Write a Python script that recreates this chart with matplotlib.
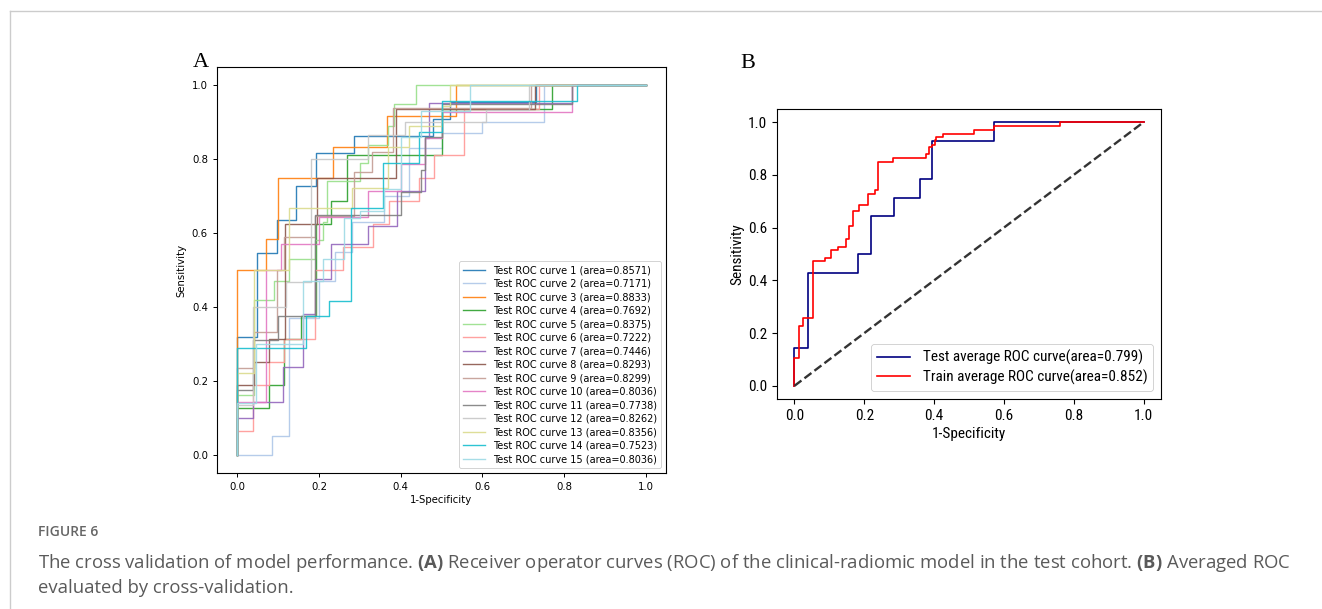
import matplotlib
matplotlib.use("Agg")
import matplotlib.pyplot as plt
from matplotlib import font_manager as fm
from matplotlib.lines import Line2D

# ---------------- data: panel A (15 test ROC curves, step corners) ----------------
fpr_01 = [0, 0, 0.049, 0.098, 0.143, 0.192, 0.286, 0.478, 0.522, 0.731, 1]
tpr_01 = [0, 0.318, 0.545, 0.636, 0.727, 0.818, 0.864, 0.909, 0.955, 1, 1]
fpr_02 = [0, 0.084, 0.127, 0.2, 0.24, 0.28, 0.36, 0.42, 0.5, 0.6, 0.751, 1]
tpr_02 = [0, 0.05, 0.37, 0.47, 0.55, 0.63, 0.70, 0.83, 0.87, 0.9, 1, 1]
fpr_03 = [0, 0, 0.069, 0.1, 0.233, 0.367, 0.535, 1]
tpr_03 = [0, 0.5, 0.583, 0.75, 0.833, 0.917, 1, 1]
fpr_04 = [0, 0, 0.077, 0.115, 0.155, 0.193, 0.23, 0.269, 0.5, 0.77, 1]
tpr_04 = [0, 0.125, 0.1875, 0.3125, 0.375, 0.625, 0.6875, 0.8125, 0.9375, 1, 1]
fpr_05 = [0, 0, 0.04, 0.09, 0.126, 0.19, 0.21, 0.22, 0.30, 0.32, 0.37, 0.384, 0.437, 1]
tpr_05 = [0, 0.16, 0.42, 0.47, 0.53, 0.58, 0.63, 0.74, 0.79, 0.84, 0.89, 0.95, 1, 1]
fpr_06 = [0, 0, 0.037, 0.077, 0.115, 0.19, 0.259, 0.333, 0.371, 0.446, 0.482, 0.555, 0.74, 1]
tpr_06 = [0, 0.0625, 0.1875, 0.25, 0.3125, 0.5, 0.5625, 0.625, 0.6875, 0.75, 0.8125, 0.9375, 1, 1]
fpr_07 = [0, 0, 0.037, 0.111, 0.16, 0.19, 0.23, 0.32, 0.39, 0.46, 0.47, 0.82, 1]
tpr_07 = [0, 0.1, 0.143, 0.238, 0.381, 0.476, 0.571, 0.619, 0.714, 0.857, 0.952, 1, 1]
fpr_08 = [0, 0, 0.04, 0.078, 0.116, 0.194, 0.388, 0.73, 1]
tpr_08 = [0, 0.1875, 0.25, 0.3125, 0.625, 0.75, 0.9375, 1, 1]
fpr_09 = [0, 0, 0.04, 0.098, 0.115, 0.19, 0.286, 0.33, 0.38, 0.72, 1]
tpr_09 = [0, 0.235, 0.333, 0.5, 0.59, 0.647, 0.765, 0.82, 0.94, 1, 1]
fpr_10 = [0, 0, 0.071, 0.107, 0.2, 0.32, 0.4, 0.46, 0.5, 0.82, 1]
tpr_10 = [0, 0.143, 0.5, 0.571, 0.643, 0.714, 0.786, 0.857, 0.929, 1, 1]
fpr_11 = [0, 0, 0.037, 0.1, 0.19, 0.4, 0.45, 0.46, 0.5, 0.82, 1]
tpr_11 = [0, 0.175, 0.31, 0.375, 0.65, 0.71, 0.77, 0.86, 0.95, 1, 1]
fpr_12 = [0, 0, 0.037, 0.12, 0.18, 0.32, 0.41, 0.61, 0.714, 1]
tpr_12 = [0, 0.133, 0.4, 0.467, 0.8, 0.867, 0.9, 0.933, 1, 1]
fpr_13 = [0, 0, 0.04, 0.127, 0.28, 0.37, 0.42, 0.5, 0.52, 1]
tpr_13 = [0, 0.222, 0.5, 0.667, 0.722, 0.833, 0.889, 0.944, 1, 1]
fpr_14 = [0, 0, 0.167, 0.224, 0.278, 0.357, 0.445, 0.5, 0.833, 1]
tpr_14 = [0, 0.29, 0.375, 0.417, 0.667, 0.79, 0.875, 0.958, 1, 1]
fpr_15 = [0, 0, 0.045, 0.16, 0.21, 0.26, 0.3, 0.36, 0.4, 0.45, 0.571, 1]
tpr_15 = [0, 0.14, 0.3, 0.47, 0.53, 0.64, 0.66, 0.72, 0.86, 0.93, 1, 1]

areas_a = ["0.8571", "0.7171", "0.8833", "0.7692", "0.8375", "0.7222", "0.7446",
           "0.8293", "0.8299", "0.8036", "0.7738", "0.8262", "0.8356", "0.7523", "0.8036"]
colors_a = ["#1f77b4", "#aec7e8", "#ff7f0e", "#2ca02c", "#98df8a", "#ff9896", "#9467bd",
            "#8c564b", "#c49c94", "#e377c2", "#7f7f7f", "#c7c7c7", "#dbdb8d", "#17becf", "#9edae5"]

# ---------------- data: panel B (averaged ROC curves) ----------------
test_fpr = [0, 0, 0.038, 0.181, 0.218, 0.286, 0.359, 0.394, 0.573, 1.0]
test_tpr = [0, 0.143, 0.429, 0.5, 0.643, 0.714, 0.786, 0.929, 1.0, 1.0]
train_fpr = [0, 0, 0.014, 0.024, 0.053, 0.087, 0.106, 0.126, 0.148, 0.157, 0.168, 0.186,
             0.21, 0.231, 0.240, 0.282, 0.377, 0.386, 0.395, 0.402, 0.406, 0.426, 0.513,
             0.573, 0.761, 1.0]
train_tpr = [0, 0.107, 0.227, 0.258, 0.475, 0.485, 0.515, 0.525, 0.556, 0.606, 0.662, 0.687,
             0.727, 0.742, 0.848, 0.864, 0.879, 0.904, 0.914, 0.934, 0.944, 0.955, 0.97,
             0.985, 1.0, 1.0]
test_area = "0.799"
train_area = "0.852"

ticks = [0.0, 0.2, 0.4, 0.6, 0.8, 1.0]

# ---------------- fonts ----------------
names = {f.name for f in fm.fontManager.ttflist}
b_font = {"family": "DejaVu Sans"}
b_size = 8.5
for cand in ["Liberation Sans Narrow", "Roboto Condensed", "Open Sans Condensed",
             "DejaVu Sans Condensed"]:
    if cand in names:
        b_font = {"family": cand}
        b_size = 11
        break
else:
    try:
        p = fm.findfont(fm.FontProperties(family="DejaVu Sans", stretch="condensed"),
                        fallback_to_default=False)
        if "Condensed" in p:
            b_font = {"family": "DejaVu Sans", "stretch": "condensed"}
            b_size = 10
    except Exception:
        pass
cap_font = "Open Sans" if "Open Sans" in names else "DejaVu Sans"

plt.rcParams["font.family"] = ["DejaVu Sans"]

W, H = 1322, 609
fig = plt.figure(figsize=(W / 100, H / 100), dpi=100)
fig.patch.set_facecolor("white")

# thin page frame lines (top and left)
fig.add_artist(Line2D([10 / W, 1.0], [1 - 11 / H, 1 - 11 / H], transform=fig.transFigure,
                      color="#cccccc", lw=1.0))
fig.add_artist(Line2D([10 / W, 10 / W], [0.0, 1 - 11 / H], transform=fig.transFigure,
                      color="#cccccc", lw=1.0))

# ---------------- panel A ----------------
axA = fig.add_axes([217 / W, 1 - 473 / H, 449 / W, 406 / H])
curves = [(fpr_01, tpr_01), (fpr_02, tpr_02), (fpr_03, tpr_03), (fpr_04, tpr_04),
          (fpr_05, tpr_05), (fpr_06, tpr_06), (fpr_07, tpr_07), (fpr_08, tpr_08),
          (fpr_09, tpr_09), (fpr_10, tpr_10), (fpr_11, tpr_11), (fpr_12, tpr_12),
          (fpr_13, tpr_13), (fpr_14, tpr_14), (fpr_15, tpr_15)]
for i, (fx, ty) in enumerate(curves):
    axA.plot(fx, ty, drawstyle="steps-post", color=colors_a[i], lw=1.0, alpha=0.9,
             label=f"Test ROC curve {i + 1} (area={areas_a[i]})")
axA.set_xticks(ticks)
axA.set_yticks(ticks)
axA.tick_params(labelsize=7.3, length=3, width=0.7)
axA.set_xlabel("1-Specificity", fontsize=7.3, labelpad=2)
axA.set_ylabel("Sensitivity", fontsize=7.3, labelpad=4)
for s in axA.spines.values():
    s.set_linewidth(0.8)
legA = axA.legend(loc="lower right", fontsize=7.0, labelspacing=0.36, handlelength=2.3,
                  borderaxespad=0.5, framealpha=1.0, fancybox=True)
legA.get_frame().set_linewidth(0.6)

# ---------------- panel B ----------------
axB = fig.add_axes([777 / W, 1 - 399 / H, 384 / W, 290 / H])
axB.plot(test_fpr, test_tpr, drawstyle="steps-post", color="navy", lw=1.2,
         label=f"Test average ROC curve(area={test_area})")
axB.plot(train_fpr, train_tpr, drawstyle="steps-post", color="red", lw=1.2,
         label=f"Train average ROC curve(area={train_area})")
axB.plot([0, 1], [0, 1], linestyle="--", color="#333333", lw=1.7)
axB.set_xticks(ticks)
axB.set_yticks(ticks)
axB.set_xticklabels([f"{t:.1f}" for t in ticks], fontsize=b_size, **b_font)
axB.set_yticklabels([f"{t:.1f}" for t in ticks], fontsize=b_size, **b_font)
axB.tick_params(length=3.5, width=0.8)
axB.set_xlabel("1-Specificity", fontsize=b_size, labelpad=3, **b_font)
axB.set_ylabel("Sensitivity", fontsize=b_size, labelpad=3, **b_font)
legB = axB.legend(loc="lower right", prop=dict(size=b_size, **b_font),
                  handlelength=2.2, labelspacing=0.3, framealpha=1.0)
legB.get_frame().set_linewidth(0.6)

# ---------------- panel letters ----------------
fig.text(193 / W, 1 - 67 / H, "A", family="Liberation Serif", fontsize=16, va="baseline")
fig.text(740 / W, 1 - 68 / H, "B", family="Liberation Serif", fontsize=16, va="baseline")

# ---------------- caption ----------------
plt.rcParams["mathtext.fontset"] = "custom"
plt.rcParams["mathtext.bf"] = f"{cap_font}:bold"
plt.rcParams["mathtext.rm"] = cap_font
fig.text(38 / W, 1 - 532 / H, "FIGURE 6", family=cap_font, fontweight="semibold",
         fontsize=10, color="#666666", va="center")
line1 = ("The cross validation of model performance. $\\mathbf{(A)}$ Receiver operator curves (ROC) "
         "of the clinical-radiomic model in the test cohort. $\\mathbf{(B)}$ Averaged ROC")
fig.text(38 / W, 1 - 563 / H, line1, family=cap_font, fontsize=13.3, color="#5a5a5a", va="center")
fig.text(38 / W, 1 - 588 / H, "evaluated by cross-validation.", family=cap_font, fontsize=13.3,
         color="#5a5a5a", va="center")

fig.savefig("out.png", dpi=100, facecolor="white")
